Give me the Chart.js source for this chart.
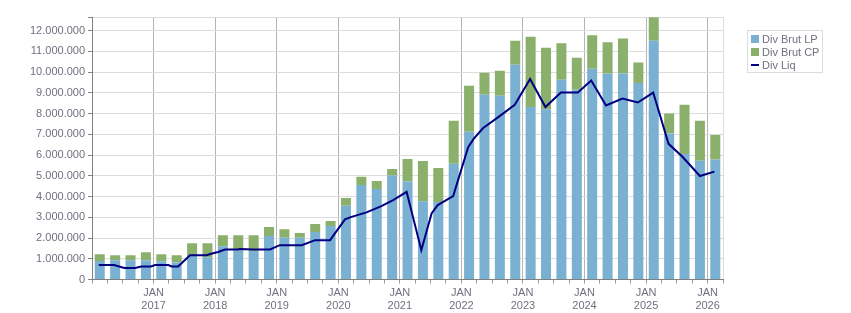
<!DOCTYPE html>
<html>
<head>
<meta charset="utf-8">
<script src="https://cdn.jsdelivr.net/npm/chart.js@4.4.1/dist/chart.umd.min.js"></script>
<style>
  body { margin: 0; background: #fff; }
  #wrap { position: relative; width: 851px; height: 313px; }
  #legend {
    position: absolute; left: 747px; top: 30px; width: 76px; height: 43px;
    box-sizing: border-box; border: 1px solid #dcdcdc; padding-top: 2px;
    font: 11px 'Liberation Sans', sans-serif; color: #707080;
  }
  .item { height: 12.8px; display: flex; align-items: center; padding-left: 3px; white-space: nowrap; }
  .sw { width: 8px; height: 8px; margin-right: 3px; flex: none; }
  .ln { width: 8px; height: 2px; margin-right: 3px; flex: none; background: #000080; }
</style>
</head>
<body>
<div id="wrap">
  <canvas id="div_chart" width="851" height="313"></canvas>
  <div id="legend"></div>
</div>
<script>
    // Quarters (bars are placed mid-quarter)
    const quarters = [
        '2016-Q1', '2016-Q2', '2016-Q3', '2016-Q4',
        '2017-Q1', '2017-Q2', '2017-Q3', '2017-Q4',
        '2018-Q1', '2018-Q2', '2018-Q3', '2018-Q4',
        '2019-Q1', '2019-Q2', '2019-Q3', '2019-Q4',
        '2020-Q1', '2020-Q2', '2020-Q3', '2020-Q4',
        '2021-Q1', '2021-Q2', '2021-Q3', '2021-Q4',
        '2022-Q1', '2022-Q2', '2022-Q3', '2022-Q4',
        '2023-Q1', '2023-Q2', '2023-Q3', '2023-Q4',
        '2024-Q1', '2024-Q2', '2024-Q3', '2024-Q4',
        '2025-Q1', '2025-Q2', '2025-Q3', '2025-Q4',
        '2026-Q1'
    ];

    // Div Brut LP
    const divBrutLP = [
        900000, 930000, 930000, 930000,
        880000, 820000, 1140000, 1080000,
        1610000, 1400000, 1380000, 2100000,
        2010000, 2010000, 2290000, 2580000,
        3560000, 4560000, 4360000, 5010000,
        4720000, 3780000, 3740000, 5580000,
        7120000, 8900000, 8860000, 10350000,
        8320000, 8210000, 9630000, 9140000,
        10160000, 9930000, 9930000, 9470000,
        11510000, 7040000, 6050000, 5720000,
        5780000
    ];

    // Div Brut CP
    const divBrutCP = [
        320000, 240000, 240000, 390000,
        340000, 350000, 610000, 670000,
        530000, 740000, 760000, 430000,
        420000, 240000, 390000, 240000,
        370000, 400000, 390000, 320000,
        1090000, 1930000, 1640000, 2070000,
        2220000, 1070000, 1200000, 1160000,
        3380000, 2960000, 1750000, 1550000,
        1610000, 1500000, 1680000, 990000,
        1130000, 960000, 2370000, 1930000,
        1190000
    ];

    // Div Liq
    const liqDates = [
        '2016-02-10', '2016-05-10', '2016-07-10', '2016-09-13', '2016-10-19', '2016-12-16',
        '2017-01-10', '2017-03-28', '2017-04-16', '2017-05-25', '2017-08-04', '2017-11-10',
        '2017-12-19', '2018-01-19', '2018-02-26', '2018-05-16', '2018-05-25', '2018-08-13',
        '2018-11-22', '2019-01-19', '2019-05-28', '2019-08-16', '2019-11-13', '2020-02-10',
        '2020-03-19', '2020-06-16', '2020-09-13', '2020-11-22', '2021-02-10', '2021-05-07',
        '2021-07-07', '2021-08-13', '2021-11-13', '2022-02-10', '2022-03-13', '2022-05-07',
        '2022-08-13', '2022-11-13', '2023-02-12', '2023-05-13', '2023-08-13', '2023-11-22',
        '2024-02-10', '2024-05-07', '2024-08-13', '2024-11-13', '2025-02-12', '2025-05-13',
        '2025-08-04', '2025-11-16', '2026-02-10'
    ];
    const divLiq = [
        700000, 700000, 560000, 560000, 630000, 630000,
        700000, 700000, 630000, 630000, 1170000, 1170000,
        1270000, 1330000, 1450000, 1450000, 1470000, 1450000,
        1450000, 1660000, 1660000, 1900000, 1900000, 2900000,
        3020000, 3240000, 3540000, 3830000, 4230000, 1420000,
        3190000, 3590000, 4020000, 6380000, 6780000, 7290000,
        7860000, 8420000, 9660000, 8310000, 9010000, 9010000,
        9590000, 8390000, 8720000, 8530000, 9010000, 6540000,
        5920000, 4990000, 5200000
    ];

    const yTickValues = [0, 1000000, 2000000, 3000000, 4000000, 5000000, 6000000,
        7000000, 8000000, 9000000, 10000000, 11000000, 12000000];
    const yMax = 12650000;
    const xMax = 123; // months after Jan 2016 (start of April 2026)

    // months since 1 Jan 2016
    function quarterToMonths(q) {
        const [y, n] = q.split('-Q');
        return (parseInt(y) - 2016) * 12 + (parseInt(n) - 1) * 3 + 1.5;
    }
    function dateToMonths(d) {
        const [y, m, day] = d.split('-').map(Number);
        const days = new Date(y, m, 0).getDate();
        return (y - 2016) * 12 + (m - 1) + (day - 1) / days;
    }
    function fmt(v) {
        return String(v).replace(/\B(?=(\d{3})+(?!\d))/g, '.');
    }

    const textColor = '#707080';
    const font = { family: "'Liberation Sans', sans-serif", size: 11 };
    const barX = quarters.map(quarterToMonths);

    const data = {
        datasets: [{
            type: 'line',
            label: 'Div Liq',
            data: liqDates.map((d, i) => ({ x: dateToMonths(d), y: divLiq[i] })),
            borderColor: '#000080',
            backgroundColor: '#000080',
            borderWidth: 2,
            pointRadius: 0,
            tension: 0,
            stack: 'liq',
            order: 0
        }, {
            label: 'Div Brut LP',
            data: barX.map((x, i) => ({ x: x, y: divBrutLP[i] })),
            backgroundColor: '#7ab0d2',
            stack: 'brut',
            order: 1
        }, {
            label: 'Div Brut CP',
            data: barX.map((x, i) => ({ x: x, y: divBrutCP[i] })),
            backgroundColor: '#8ab06c',
            stack: 'brut',
            order: 1
        }]
    };

    const config = {
        type: 'bar',
        data: data,
        options: {
            responsive: false,
            animation: false,
            devicePixelRatio: 1,
            categoryPercentage: 0.65,
            barPercentage: 1,
            layout: {
                padding: { left: 27, right: 128, top: 17, bottom: -3 }
            },
            plugins: {
                legend: { display: false },
                tooltip: { enabled: false }
            },
            scales: {
                x: {
                    type: 'linear',
                    min: 0,
                    max: xMax,
                    offset: false,
                    afterBuildTicks: function (axis) {
                        const t = [];
                        for (let v = 0; v <= xMax; v += 3) t.push({ value: v });
                        axis.ticks = t;
                    },
                    grid: {
                        offset: false,
                        tickLength: 4,
                        color: function (ctx) {
                            const v = ctx.tick ? ctx.tick.value : -1;
                            if (v === xMax) return '#dcdcdc';
                            if (v > 0 && v % 12 === 0) return '#b4b4b4';
                            return 'rgba(0,0,0,0)';
                        },
                        tickColor: '#9a9a9a'
                    },
                    border: { color: '#808080' },
                    ticks: {
                        autoSkip: false,
                        maxRotation: 0,
                        padding: 3,
                        color: textColor,
                        font: font,
                        callback: function (value) {
                            if (value > 0 && value < xMax && value % 12 === 0) {
                                return ['JAN', String(2016 + value / 12)];
                            }
                            return '';
                        }
                    }
                },
                y: {
                    stacked: true,
                    min: 0,
                    max: yMax,
                    afterBuildTicks: function (axis) {
                        axis.ticks = yTickValues.concat([yMax]).map(v => ({ value: v }));
                    },
                    grid: {
                        color: '#dcdcdc',
                        tickLength: 4,
                        tickColor: '#808080'
                    },
                    border: { color: '#808080' },
                    ticks: {
                        padding: 3,
                        color: textColor,
                        font: font,
                        callback: function (value) {
                            return value % 1000000 === 0 ? fmt(value) : '';
                        }
                    }
                }
            }
        }
    };

    // Render the chart
    const div_chart = new Chart(document.getElementById('div_chart'), config);

    // Legend
    const legendItems = [
        { label: 'Div Brut LP', color: '#7ab0d2', cls: 'sw' },
        { label: 'Div Brut CP', color: '#8ab06c', cls: 'sw' },
        { label: 'Div Liq', color: '#000080', cls: 'ln' }
    ];
    document.getElementById('legend').innerHTML = legendItems.map(it =>
        '<div class="item"><span class="' + it.cls + '" style="background:' + it.color + '"></span>' + it.label + '</div>'
    ).join('');
</script>
</body>
</html>
